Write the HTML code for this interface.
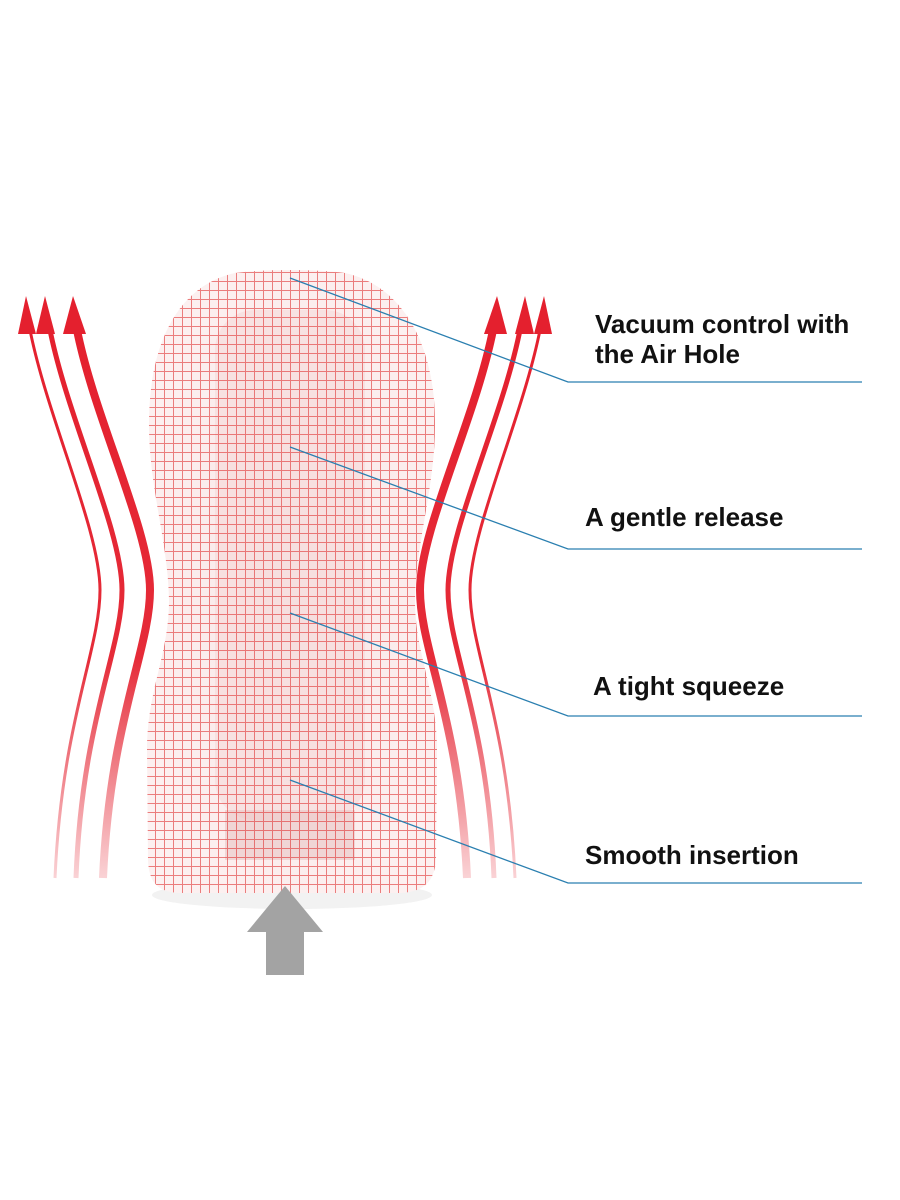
<!DOCTYPE html>
<html><head><style>
html,body{margin:0;padding:0;background:#fff;}
svg{display:block;}
text{font-family:"Liberation Sans",Arial,sans-serif;font-weight:bold;font-size:26px;fill:#111;}
</style></head><body>
<svg width="900" height="1200" viewBox="0 0 900 1200" xmlns="http://www.w3.org/2000/svg">
<defs>
<clipPath id="body">
<path d="M235,273 C265,269 315,269 345,273 C400,285 434,340 435,420 C436,485 416,540 415,600 C415,655 437,690 437,750 L436,860 C434,885 420,892 400,893 L180,893 C160,892 149,885 148,860 L147,750 C147,690 169,655 169,600 C168,540 148,485 149,420 C150,340 180,285 235,273 Z"/>
</clipPath>
<linearGradient id="fadeL" x1="0" y1="0" x2="0" y2="1">
<stop offset="0" stop-color="#e4202e" stop-opacity="1"/>
<stop offset="0.6" stop-color="#e4202e" stop-opacity="0.95"/>
<stop offset="1" stop-color="#e4202e" stop-opacity="0.2"/>
</linearGradient>
<pattern id="grid" width="9" height="9" patternUnits="userSpaceOnUse" x="2" y="2">
<path d="M0,0.5 H9 M0.5,0 V9" stroke="#e03030" stroke-width="1" fill="none" opacity="0.6"/>
</pattern>
<radialGradient id="shade" cx="0.5" cy="0.5" r="0.6">
<stop offset="0" stop-color="#f9e6e6"/>
<stop offset="1" stop-color="#fcf1f1"/>
</radialGradient>
</defs>
<ellipse cx="292" cy="895" rx="140" ry="14" fill="#f2f2f2"/>
<g clip-path="url(#body)">
<rect x="140" y="265" width="310" height="640" fill="url(#shade)"/>
<rect x="215" y="310" width="150" height="510" fill="#f3d6d6" opacity="0.5" rx="40"/>
<rect x="225" y="810" width="130" height="50" fill="#e9c4c4" opacity="0.6"/>
<rect x="140" y="265" width="310" height="640" fill="url(#grid)"/>
</g>
<g id="arrows">
<g fill="none" stroke="url(#fadeL)">
<path d="M30,330 C48,420 100,530 100,590 C100,650 62,720 55,878" stroke-width="3"/>
<path d="M50,330 C68,420 122,530 122,590 C122,650 82,720 76,878" stroke-width="5"/>
<path d="M77,330 C95,420 150,530 150,590 C150,650 110,720 103,878" stroke-width="8"/>
</g>
<g fill="#e4202e">
<polygon points="26,296 18,334 36,334"/>
<polygon points="45,296 36,334 55,334"/>
<polygon points="73,296 63,334 86,334"/>
</g>
</g>
<use href="#arrows" transform="translate(570,0) scale(-1,1)"/>
<polygon points="285,886 323,932 304,932 304,975 266,975 266,932 247,932" fill="#a3a3a3"/>
<g stroke="#2a7fb0" stroke-width="1.3" fill="none">
<polyline points="290,278 568,382 862,382"/>
<polyline points="290,447 568,549 862,549"/>
<polyline points="290,613 568,716 862,716"/>
<polyline points="290,780 568,883 862,883"/>
</g>
<text x="595" y="333">Vacuum control with</text>
<text x="595" y="363">the Air Hole</text>
<text x="585" y="526">A gentle release</text>
<text x="593" y="695">A tight squeeze</text>
<text x="585" y="864">Smooth insertion</text>
</svg>
</body></html>
